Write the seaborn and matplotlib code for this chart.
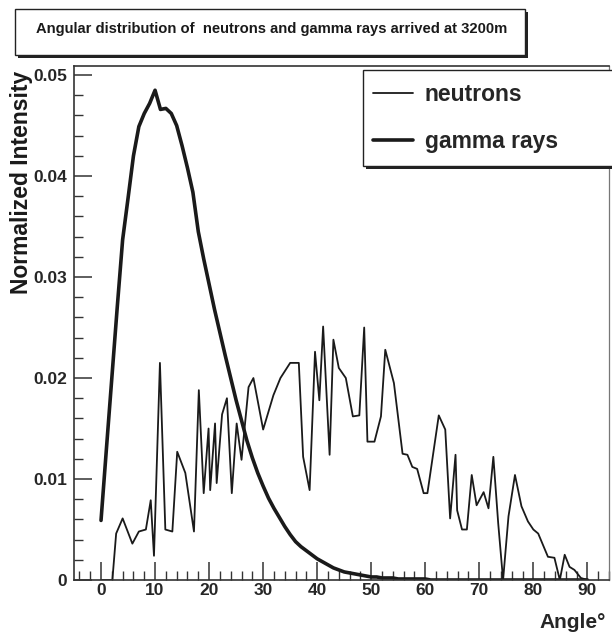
import matplotlib
matplotlib.use("Agg")
import matplotlib.pyplot as plt
from matplotlib.patches import Rectangle
from matplotlib.ticker import MultipleLocator, FixedLocator, FixedFormatter
import pandas as pd
import seaborn as sns

# ---- data -------------------------------------------------------------
neutron_angle = [0, 2.1, 2.8, 4.0, 5.8, 7.0, 8.3, 9.2, 9.8, 10.9, 11.9, 13.2,
                 14.1, 15.6, 17.2, 18.1, 19.0, 19.9, 20.2, 21.1, 21.4, 22.4,
                 23.3, 24.2, 25.1, 26.0, 27.3, 28.2, 30.0, 31.9, 33.2, 35.0,
                 36.6, 37.4, 38.6, 39.6, 40.4, 41.1, 42.3, 43.0, 44.0, 45.3,
                 46.6, 47.8, 48.7, 49.3, 50.6, 51.8, 52.6, 54.2, 55.8, 56.7,
                 57.6, 58.5, 59.7, 60.4, 62.5, 63.7, 64.6, 65.6, 65.9, 66.8,
                 67.7, 68.6, 69.5, 70.8, 71.7, 72.6, 73.5, 74.4, 75.4, 76.6,
                 77.8, 79.0, 80.0, 80.9, 82.7, 83.9, 84.9, 85.8, 86.7, 87.6,
                 88.8, 90.0]
neutron_intensity = [0, 0, 0.0046, 0.0061, 0.0036, 0.0048, 0.0050, 0.0079,
                     0.0024, 0.0215, 0.0050, 0.0048, 0.0127, 0.0106, 0.0048,
                     0.0188, 0.0086, 0.0150, 0.0089, 0.0155, 0.0096, 0.0164,
                     0.0180, 0.0086, 0.0155, 0.0119, 0.0191, 0.0200, 0.0149,
                     0.0183, 0.0200, 0.0215, 0.0215, 0.0122, 0.0089, 0.0226,
                     0.0178, 0.0251, 0.0124, 0.0238, 0.0210, 0.0200, 0.0162,
                     0.0163, 0.0250, 0.0137, 0.0137, 0.0162, 0.0228, 0.0195,
                     0.0125, 0.0124, 0.0112, 0.0110, 0.0086, 0.0086, 0.0163,
                     0.0149, 0.0061, 0.0124, 0.0069, 0.0050, 0.0050, 0.0104,
                     0.0074, 0.0087, 0.0071, 0.0122, 0.0056, 0.0000, 0.0063,
                     0.0104, 0.0073, 0.0058, 0.0050, 0.0046, 0.0023, 0.0022,
                     0.0000, 0.0025, 0.0013, 0.0010, 0.0002, 0.0]

gamma_angle = list(range(0, 91))
gamma_intensity = [0.0059, 0.0130, 0.0200, 0.0270, 0.0337, 0.0378, 0.0420,
                   0.0449, 0.0462, 0.0472, 0.0485, 0.0466, 0.0467, 0.0462,
                   0.0450, 0.0430, 0.0408, 0.0384, 0.0345, 0.0318, 0.0293,
                   0.0268, 0.0245, 0.0222, 0.0200, 0.0178, 0.0158, 0.0138,
                   0.0121, 0.0106, 0.0093, 0.0081, 0.0071, 0.0062, 0.0053,
                   0.0045, 0.0038, 0.0033, 0.0029, 0.0025, 0.0021, 0.0018,
                   0.0015, 0.0012, 0.0010, 0.0008, 0.0007, 0.0006, 0.0005,
                   0.0004, 0.0003, 0.0003, 0.0002, 0.0002, 0.0002, 0.0001,
                   0.0001, 0.0001, 0.0001, 0.0001, 0.0001] + [0.0] * 30

x_ticks = [0, 10, 20, 30, 40, 50, 60, 70, 80, 90]
y_ticks = [0, 0.01, 0.02, 0.03, 0.04, 0.05]
y_tick_labels = ["0", "0.01", "0.02", "0.03", "0.04", "0.05"]

title_text = "Angular distribution of  neutrons and gamma rays arrived at 3200m"

# ---- style -------------------------------------------------------------
sns.set_theme(style="ticks")
plt.rcParams["font.family"] = ["Liberation Sans", "DejaVu Sans"]
plt.rcParams["font.weight"] = "bold"

W, H = 612, 634
fig = plt.figure(figsize=(W / 100, H / 100), dpi=100)
fig.patch.set_facecolor("white")


def fx(px):
    return px / W


def fy(py):
    return 1 - py / H


ax = fig.add_axes([fx(74), fy(580), (609 - 74) / W, (580 - 66) / H])
ax.set_facecolor("white")

df_n = pd.DataFrame({"angle": neutron_angle, "intensity": neutron_intensity})
df_g = pd.DataFrame({"angle": gamma_angle, "intensity": gamma_intensity})

sns.lineplot(data=df_n, x="angle", y="intensity", ax=ax, color="#1a1a1a",
             lw=1.3, sort=False, estimator=None, label="neutrons",
             legend=False)
sns.lineplot(data=df_g, x="angle", y="intensity", ax=ax, color="#1a1a1a",
             lw=2.6, sort=False, estimator=None, label="gamma rays",
             legend=False)

ax.set_xlim(-5, 94)
ax.set_ylim(0, 0.0509)

ax.xaxis.set_major_locator(FixedLocator(x_ticks))
ax.xaxis.set_minor_locator(MultipleLocator(2))
ax.yaxis.set_major_locator(FixedLocator(y_ticks))
ax.yaxis.set_major_formatter(FixedFormatter(y_tick_labels))
ax.yaxis.set_minor_locator(MultipleLocator(0.002))

ax.tick_params(axis="both", which="major", direction="in", length=13,
               width=1.1, color="#333333", labelsize=12.5, top=False,
               right=False, pad=5)
ax.tick_params(axis="x", which="major", pad=2.5)
ax.tick_params(axis="both", which="minor", direction="in", length=6.5,
               width=1.0, color="#333333", top=False, right=False)
for lab in ax.get_xticklabels() + ax.get_yticklabels():
    lab.set_fontweight("bold")

for side in ["left", "bottom", "top", "right"]:
    ax.spines[side].set_visible(True)
    ax.spines[side].set_color("#333333")
    ax.spines[side].set_linewidth(1.2)
ax.spines["right"].set_color("#777777")
ax.spines["right"].set_linewidth(0.9)

ax.set_ylabel("")
ax.set_xlabel("Angle°", fontsize=15, fontweight="bold", loc="right")
ax.xaxis.set_label_coords(0.995, -0.065)
fig.text(fx(22), fy(71), "Normalized Intensity", rotation=90, ha="center",
         va="top", fontsize=16.5, fontweight="bold", color="#1a1a1a")

# ---- legend with box and drop shadow ------------------------------------
lx0, ly0, lx1, ly1 = 363, 70, 616, 166
fig.add_artist(Rectangle((fx(lx0 + 3), fy(ly1 + 3)), (lx1 - lx0) / W,
                         (ly1 - ly0) / H, transform=fig.transFigure,
                         facecolor="#222222", edgecolor="none", zorder=5))
fig.add_artist(Rectangle((fx(lx0), fy(ly1)), (lx1 - lx0) / W,
                         (ly1 - ly0) / H, transform=fig.transFigure,
                         facecolor="white", edgecolor="#222222", lw=1.0,
                         zorder=6))
handles = ax.get_lines()[:2]
leg = fig.legend(handles, ["neutrons", "gamma rays"], loc="upper left",
                 bbox_to_anchor=(fx(357), fy(67)),
                 bbox_transform=fig.transFigure, frameon=False,
                 prop={"size": 16.5, "weight": "bold"}, handlelength=1.75,
                 handletextpad=0.5, labelspacing=1.05, borderpad=0.2)
leg.set_zorder(7)

# ---- title box with drop shadow ---------------------------------------
tx0, ty0, tx1, ty1 = 15, 9, 525, 55
fig.add_artist(Rectangle((fx(tx0 + 3), fy(ty1 + 3)), (tx1 - tx0) / W,
                         (ty1 - ty0) / H, transform=fig.transFigure,
                         facecolor="#222222", edgecolor="none", zorder=5))
fig.add_artist(Rectangle((fx(tx0), fy(ty1)), (tx1 - tx0) / W,
                         (ty1 - ty0) / H, transform=fig.transFigure,
                         facecolor="white", edgecolor="#222222", lw=1.0,
                         zorder=6))
fig.text(fx((tx0 + tx1) / 2 + 2), fy(29), title_text, ha="center",
         va="center", fontsize=10.6, fontweight="bold", color="#1a1a1a",
         zorder=7)

fig.savefig("out.png", dpi=100, facecolor="white")
